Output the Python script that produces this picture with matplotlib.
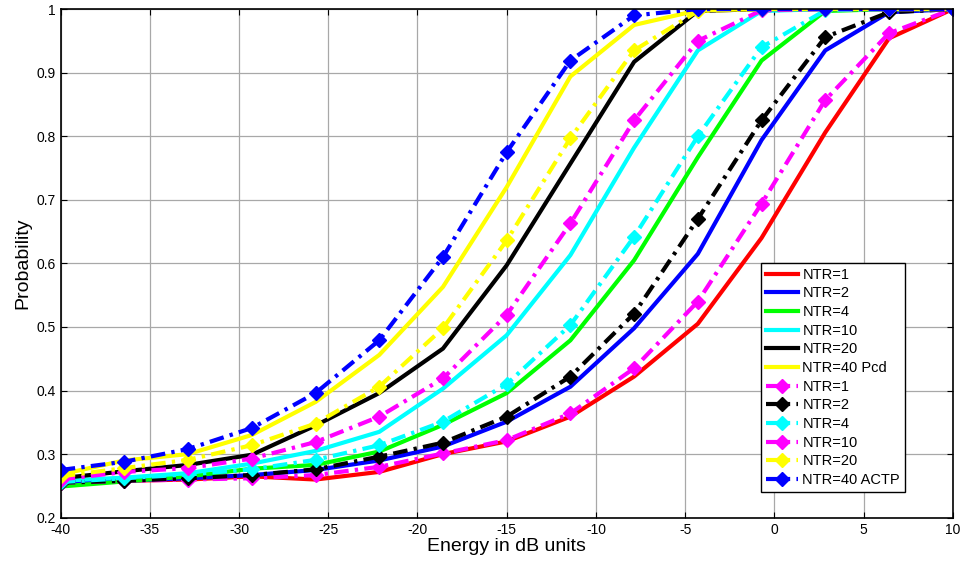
import numpy as np
import matplotlib
matplotlib.use("Agg")
import matplotlib.pyplot as plt

plt.rcParams['font.family'] = ['Liberation Sans', 'DejaVu Sans']
plt.rcParams['axes.unicode_minus'] = False

energy = np.linspace(-40, 10, 15)

# Pcd (solid lines)
pcd_ntr1 = [0.255, 0.258, 0.260, 0.265, 0.260, 0.272, 0.300, 0.320, 0.359, 0.422, 0.505, 0.640, 0.806, 0.954, 1.0]
pcd_ntr2 = [0.255, 0.258, 0.262, 0.267, 0.275, 0.290, 0.312, 0.351, 0.406, 0.498, 0.615, 0.794, 0.935, 0.995, 1.0]
pcd_ntr4 = [0.249, 0.257, 0.265, 0.277, 0.283, 0.304, 0.346, 0.396, 0.479, 0.605, 0.767, 0.919, 0.997, 1.0, 1.0]
pcd_ntr10 = [0.258, 0.263, 0.270, 0.285, 0.305, 0.335, 0.403, 0.487, 0.613, 0.782, 0.935, 0.997, 1.0, 1.0, 1.0]
pcd_ntr20 = [0.262, 0.273, 0.283, 0.299, 0.345, 0.396, 0.466, 0.597, 0.757, 0.917, 0.997, 1.0, 1.0, 1.0, 1.0]
pcd_ntr40 = [0.268, 0.290, 0.300, 0.330, 0.382, 0.456, 0.563, 0.720, 0.894, 0.975, 0.998, 1.0, 1.0, 1.0, 1.0]

# ACTP (dash-dot lines with diamonds)
actp_ntr1 = [0.255, 0.258, 0.260, 0.262, 0.267, 0.280, 0.301, 0.322, 0.364, 0.435, 0.540, 0.694, 0.857, 0.962, 1.0]
actp_ntr2 = [0.255, 0.258, 0.262, 0.267, 0.276, 0.296, 0.318, 0.359, 0.422, 0.521, 0.670, 0.825, 0.956, 0.995, 1.0]
actp_ntr4 = [0.256, 0.262, 0.268, 0.276, 0.291, 0.314, 0.351, 0.410, 0.503, 0.642, 0.800, 0.940, 0.998, 1.0, 1.0]
actp_ntr10 = [0.260, 0.272, 0.278, 0.293, 0.319, 0.359, 0.419, 0.519, 0.663, 0.825, 0.950, 0.998, 1.0, 1.0, 1.0]
actp_ntr20 = [0.265, 0.278, 0.291, 0.314, 0.348, 0.406, 0.498, 0.636, 0.797, 0.935, 0.997, 1.0, 1.0, 1.0, 1.0]
actp_ntr40 = [0.275, 0.288, 0.308, 0.341, 0.396, 0.479, 0.610, 0.775, 0.919, 0.990, 1.0, 1.0, 1.0, 1.0, 1.0]

solid_series = [
    (pcd_ntr1, 'red', 'NTR=1'),
    (pcd_ntr2, 'blue', 'NTR=2'),
    (pcd_ntr4, '#00ff00', 'NTR=4'),
    (pcd_ntr10, 'cyan', 'NTR=10'),
    (pcd_ntr20, 'black', 'NTR=20'),
    (pcd_ntr40, 'yellow', 'NTR=40 Pcd'),
]
dash_series = [
    (actp_ntr1, 'magenta', 'NTR=1'),
    (actp_ntr2, 'black', 'NTR=2'),
    (actp_ntr4, 'cyan', 'NTR=4'),
    (actp_ntr10, 'magenta', 'NTR=10'),
    (actp_ntr20, 'yellow', 'NTR=20'),
    (actp_ntr40, 'blue', 'NTR=40 ACTP'),
]

fig = plt.figure(figsize=(9.6, 5.68), dpi=100)
ax = fig.add_axes([0.0632, 0.0886, 0.9292, 0.8954])

for ys, c, lab in solid_series:
    ax.plot(energy, ys, color=c, lw=3.0, label=lab)
for ys, c, lab in dash_series:
    ax.plot(energy, ys, color=c, lw=3.0, linestyle=(0, (3.5, 1.5, 0.8, 1.5)),
            marker='D', markersize=7, label=lab)

ax.set_xlim(-40, 10)
ax.set_ylim(0.2, 1.0)
ax.set_xticks(np.arange(-40, 11, 5))
ax.set_yticks(np.arange(0.2, 1.01, 0.1))
ax.set_yticklabels(['0.2', '0.3', '0.4', '0.5', '0.6', '0.7', '0.8', '0.9', '1'])
ax.grid(True, color='#a8a8a8', lw=0.9)
ax.tick_params(direction='in', top=True, right=True, labelsize=10, length=4)
for s in ax.spines.values():
    s.set_linewidth(1.2)
ax.set_xlabel('Energy in dB units', fontsize=14, labelpad=1)
ax.set_ylabel('Probability', fontsize=14, labelpad=4)

leg = ax.legend(loc='lower right', bbox_to_anchor=(0.9465, 0.05), fontsize=10.5,
                frameon=True, fancybox=False, edgecolor='black', framealpha=1,
                handlelength=2.2, handletextpad=0.3, labelspacing=0.32,
                borderpad=0.35, borderaxespad=0.0)
leg.get_frame().set_linewidth(1.0)

fig.savefig('out.png', dpi=100)
